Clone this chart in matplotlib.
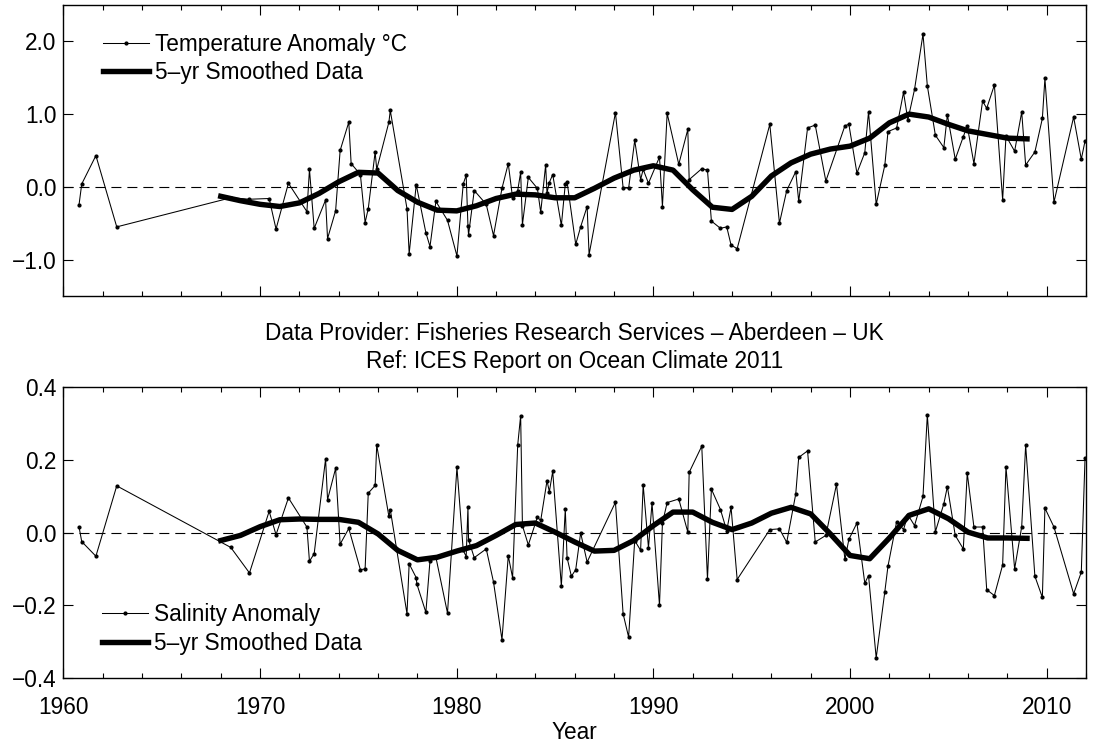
import numpy as np
import matplotlib
matplotlib.use("Agg")
import matplotlib.pyplot as plt
from matplotlib.ticker import MultipleLocator, FuncFormatter

# ── data ──
temp_years = [
    1960.79, 1960.93, 1961.65, 1962.71, 1968.51, 1969.46, 1970.46, 1970.81, 1971.44,
    1972.38, 1972.51, 1972.75, 1973.33, 1973.43, 1973.84, 1974.07, 1974.51, 1974.63,
    1975.10, 1975.34, 1975.50, 1975.85, 1975.93, 1976.55, 1976.62, 1977.47, 1977.58,
    1977.94, 1978.43, 1978.64, 1978.94, 1979.53, 1980.01, 1980.33, 1980.48, 1980.57,
    1980.60, 1980.89, 1981.50, 1981.87, 1982.30, 1982.62, 1982.84, 1983.10, 1983.25,
    1983.34, 1983.64, 1984.10, 1984.27, 1984.52, 1984.59, 1984.71, 1984.88, 1985.32,
    1985.52, 1985.61, 1986.05, 1986.30, 1986.63, 1986.73, 1988.07, 1988.46, 1988.74,
    1989.05, 1989.35, 1989.48, 1989.75, 1990.31, 1990.46, 1990.70, 1991.29, 1991.75,
    1991.82, 1992.46, 1992.75, 1992.95, 1993.41, 1993.73, 1993.95, 1994.26, 1995.92,
    1996.41, 1996.78, 1997.24, 1997.39, 1997.84, 1998.23, 1998.77, 1999.74, 1999.94,
    2000.35, 2000.75, 2000.94, 2001.33, 2001.77, 2001.93, 2002.37, 2002.72, 2002.94,
    2003.28, 2003.71, 2003.93, 2004.34, 2004.77, 2004.95, 2005.35, 2005.76, 2005.96,
    2006.30, 2006.74, 2006.95, 2007.34, 2007.76, 2007.93, 2008.37, 2008.73, 2008.93,
    2009.40, 2009.78, 2009.91, 2010.37, 2011.37, 2011.76, 2011.95,
]
temp_anom = [
    -0.25, 0.04, 0.43, -0.55, -0.15, -0.17, -0.16, -0.58, 0.05,
    -0.34, 0.24, -0.57, -0.18, -0.71, -0.33, 0.50, 0.89, 0.32,
    0.17, -0.49, -0.30, 0.48, 0.24, 0.89, 1.05, -0.30, -0.92,
    0.03, -0.63, -0.82, -0.20, -0.46, -0.95, 0.04, 0.16, -0.54,
    -0.66, -0.05, -0.24, -0.67, -0.02, 0.32, -0.15, -0.05, 0.20,
    -0.52, 0.13, -0.02, -0.35, 0.30, -0.08, 0.06, 0.17, -0.53,
    0.04, 0.07, -0.79, -0.55, -0.27, -0.93, 1.02, -0.01, -0.02,
    0.64, 0.10, 0.24, 0.05, 0.41, -0.27, 1.01, 0.31, 0.79,
    0.10, 0.25, 0.23, -0.47, -0.57, -0.55, -0.80, -0.85, 0.86,
    -0.50, -0.05, 0.21, -0.20, 0.81, 0.85, 0.08, 0.84, 0.86,
    0.19, 0.47, 1.03, -0.24, 0.30, 0.76, 0.81, 1.30, 0.92,
    1.34, 2.10, 1.39, 0.71, 0.54, 0.99, 0.38, 0.69, 0.84,
    0.32, 1.18, 1.08, 1.40, -0.18, 0.70, 0.49, 1.03, 0.30,
    0.48, 0.94, 1.49, -0.21, 0.96, 0.38, 0.63,
]

sal_years = [
    1960.79, 1960.93, 1961.65, 1962.71, 1968.51, 1969.46, 1970.46, 1970.81, 1971.44,
    1972.38, 1972.51, 1972.75, 1973.33, 1973.43, 1973.84, 1974.07, 1974.51, 1975.10,
    1975.34, 1975.50, 1975.85, 1975.93, 1976.55, 1976.62, 1977.47, 1977.58, 1977.94,
    1977.97, 1978.43, 1978.64, 1978.94, 1979.53, 1980.01, 1980.33, 1980.48, 1980.57,
    1980.60, 1980.89, 1981.50, 1981.87, 1982.30, 1982.62, 1982.84, 1983.10, 1983.25,
    1983.34, 1983.64, 1984.10, 1984.27, 1984.59, 1984.71, 1984.88, 1985.32, 1985.52,
    1985.61, 1985.83, 1986.05, 1986.30, 1986.63, 1988.07, 1988.46, 1988.74, 1989.05,
    1989.35, 1989.48, 1989.75, 1989.93, 1990.31, 1990.46, 1990.70, 1991.29, 1991.75,
    1991.82, 1992.46, 1992.75, 1992.95, 1993.41, 1993.73, 1993.95, 1994.26, 1995.92,
    1996.41, 1996.78, 1997.24, 1997.39, 1997.84, 1998.23, 1998.77, 1999.31, 1999.74,
    1999.94, 2000.35, 2000.75, 2000.94, 2001.33, 2001.77, 2001.93, 2002.37, 2002.72,
    2002.94, 2003.28, 2003.71, 2003.93, 2004.34, 2004.77, 2004.95, 2005.35, 2005.76,
    2005.96, 2006.30, 2006.74, 2006.95, 2007.34, 2007.76, 2007.93, 2008.37, 2008.73,
    2008.93, 2009.40, 2009.78, 2009.91, 2010.37, 2011.37, 2011.76, 2011.95,
]
sal_anom = [
    0.016, -0.025, -0.065, 0.128, -0.041, -0.111, 0.058, -0.006, 0.095,
    0.015, -0.079, -0.058, 0.202, 0.090, 0.176, -0.032, 0.011, -0.102,
    -0.100, 0.108, 0.129, 0.240, 0.044, 0.063, -0.223, -0.086, -0.124,
    -0.141, -0.219, -0.077, -0.068, -0.221, 0.179, -0.049, -0.066, 0.069,
    -0.020, -0.069, -0.045, -0.136, -0.294, -0.064, -0.124, 0.240, 0.321,
    0.019, -0.034, 0.042, 0.033, 0.142, 0.112, 0.168, -0.147, 0.065,
    -0.069, -0.120, -0.102, -0.001, -0.081, 0.083, -0.223, -0.287, -0.022,
    -0.049, 0.131, -0.042, 0.081, -0.200, 0.026, 0.082, 0.092, 0.001,
    0.165, 0.237, -0.128, 0.119, 0.063, 0.005, 0.069, -0.129, 0.008,
    0.010, -0.027, 0.106, 0.206, 0.224, -0.026, -0.008, 0.132, -0.074,
    -0.019, 0.026, -0.139, -0.118, -0.344, -0.162, -0.092, 0.030, 0.008,
    0.049, 0.019, 0.099, 0.323, 0.002, 0.079, 0.126, -0.008, -0.045,
    0.163, 0.015, 0.015, -0.157, -0.173, -0.089, 0.180, -0.100, 0.016,
    0.240, -0.120, -0.178, 0.067, 0.015, -0.168, -0.109, 0.204,
]

smooth_years = list(range(1968, 2010))
temp_smooth = [
    -0.13, -0.19, -0.24, -0.27, -0.22, -0.09, 0.07, 0.20, 0.19, -0.05,
    -0.21, -0.32, -0.33, -0.26, -0.16, -0.10, -0.11, -0.15, -0.15, -0.02,
    0.12, 0.23, 0.29, 0.23, -0.04, -0.28, -0.31, -0.13, 0.15, 0.33,
    0.45, 0.52, 0.56, 0.67, 0.88, 1.00, 0.96, 0.86, 0.77, 0.72,
    0.67, 0.66,
]
sal_smooth = [
    -0.022, -0.008, 0.016, 0.035, 0.037, 0.036, 0.036, 0.028, -0.004, -0.049,
    -0.075, -0.068, -0.051, -0.036, -0.008, 0.022, 0.026, 0.001, -0.026, -0.051,
    -0.049, -0.022, 0.019, 0.056, 0.056, 0.028, 0.008, 0.026, 0.053, 0.069,
    0.051, -0.004, -0.063, -0.072, -0.015, 0.047, 0.065, 0.038, 0.001, -0.015,
    -0.015, -0.016,
]

FS = 16.3

plt.rcParams.update({
    "font.family": ["Liberation Sans", "DejaVu Sans"],
    "font.size": FS,
    "lines.scale_dashes": False,
    "axes.linewidth": 1.0,
})


def _fmt(v, _pos):
    s = f"{v:.1f}"
    if s == "-0.0":
        s = "0.0"
    return s.replace("-", "\u2212")


def _style(ax, ylim, yticks):
    ax.set_xlim(1960, 2012)
    ax.set_ylim(*ylim)
    ax.set_yticks(yticks)
    ax.yaxis.set_major_formatter(FuncFormatter(_fmt))
    ax.xaxis.set_major_locator(MultipleLocator(10))
    ax.xaxis.set_minor_locator(MultipleLocator(2))
    ax.tick_params(which="both", direction="in", top=True, right=True, width=0.8)
    ax.tick_params(which="major", length=7.2, labelsize=FS)
    ax.tick_params(which="minor", length=3.6)
    ax.tick_params(axis="y", pad=5)
    ax.tick_params(axis="x", pad=13)
    ax.axhline(0, color="black", lw=0.8, ls=(0, (7.2, 4.3)), zorder=1)


fig = plt.figure(figsize=(10.94, 7.48), dpi=100)
ax1 = fig.add_axes([0.058, 0.6043, 0.9347, 0.389])
ax2 = fig.add_axes([0.058, 0.0932, 0.9347, 0.3898])

# ── temperature ──
ax1.plot(temp_years, temp_anom, "-o", color="black", lw=0.75, ms=2.0,
         label="Temperature Anomaly \u00b0C", zorder=3)
ax1.plot(smooth_years, temp_smooth, "-", color="black", lw=3.9,
         label="5\u2013yr Smoothed Data", zorder=4)
_style(ax1, (-1.5, 2.5), [-1.0, 0.0, 1.0, 2.0])
ax1.tick_params(axis="x", labelbottom=False)
ax1.legend(loc="upper left", bbox_to_anchor=(0.0386, 0.905), frameon=False,
           borderpad=0, borderaxespad=0, handlelength=2.05, handletextpad=0.27,
           labelspacing=0.25, fontsize=FS)

# ── salinity ──
ax2.plot(sal_years, sal_anom, "-o", color="black", lw=0.75, ms=2.0,
         label="Salinity Anomaly", zorder=3)
ax2.plot(smooth_years, sal_smooth, "-", color="black", lw=3.9,
         label="5\u2013yr Smoothed Data", zorder=4)
_style(ax2, (-0.4, 0.4), [-0.4, -0.2, 0.0, 0.2, 0.4])
ax2.set_xlabel("Year", fontsize=FS, labelpad=1)
ax2.legend(loc="lower left", bbox_to_anchor=(0.0376, 0.08), frameon=False,
           borderpad=0, borderaxespad=0, handlelength=2.05, handletextpad=0.27,
           labelspacing=0.25, fontsize=FS)

fig.text(0.5254, 1 - 334 / 748, "Data Provider: Fisheries Research Services \u2013 Aberdeen \u2013 UK",
         ha="center", va="center", fontsize=FS)
fig.text(0.5254, 1 - 361 / 748, "Ref: ICES Report on Ocean Climate 2011",
         ha="center", va="center", fontsize=FS)

fig.savefig("out.png", dpi=100)
